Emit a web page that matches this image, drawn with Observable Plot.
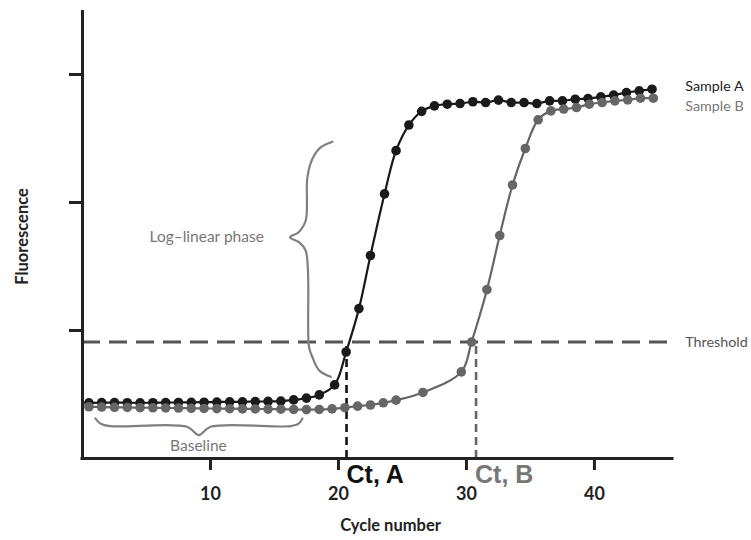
<!DOCTYPE html>
<html><head><meta charset="utf-8">
<script src="https://cdn.jsdelivr.net/npm/d3@7"></script>
<script src="https://cdn.jsdelivr.net/npm/@observablehq/plot@0.6"></script>
<style>body{margin:0;background:#fff}</style>
</head><body><div id="chart"></div>
<script>
// Sample A (black)
const cyclesA = [0.5,1.5,2.5,3.5,4.5,5.5,6.5,7.5,8.5,9.5,10.5,11.5,12.5,13.5,14.5,15.5,16.5,17.5,18.5,19.7,20.6,21.6,22.5,23.6,24.5,25.5,26.5,27.5,28.5,29.5,30.5,31.5,32.5,33.5,34.5,35.5,36.5,37.5,38.5,39.5,40.5,41.5,42.5,43.5,44.5];
const fluorA = [0.435,0.437,0.437,0.436,0.435,0.436,0.437,0.438,0.439,0.440,0.441,0.443,0.443,0.445,0.446,0.448,0.458,0.472,0.497,0.575,0.832,1.171,1.586,2.067,2.405,2.605,2.712,2.755,2.768,2.773,2.787,2.781,2.800,2.781,2.781,2.773,2.794,2.794,2.807,2.812,2.825,2.839,2.859,2.872,2.885];
// Sample B (grey)
const cyclesB = [0.5,1.5,2.5,3.5,4.5,5.5,6.5,7.5,8.5,9.5,10.5,11.5,12.5,13.5,14.5,15.5,16.5,17.5,18.5,19.5,20.5,21.5,22.5,23.5,24.5,26.6,29.6,30.4,31.6,32.6,33.6,34.6,35.6,36.6,37.6,38.6,39.6,40.6,41.6,42.6,43.6,44.6];
const fluorB = [0.404,0.402,0.400,0.399,0.397,0.396,0.395,0.394,0.392,0.391,0.390,0.389,0.388,0.387,0.386,0.385,0.383,0.382,0.383,0.388,0.397,0.409,0.418,0.435,0.456,0.516,0.677,0.910,1.319,1.742,2.137,2.422,2.646,2.716,2.730,2.742,2.768,2.781,2.794,2.802,2.815,2.815];

const xTicks = [10, 20, 30, 40];
const yTicks = [1, 2, 3];
const xDomain = [0, 46.1];
const yDomain = [0, 3.5];
const threshold = 0.91;
const ctA = 20.63;
const ctB = 30.75;
const seriesLabels = ["Sample A", "Sample B"];
const seriesLabelY = [2.91, 2.75];

// curly-brace annotations (data units)
const braceLogX = [19.53,18.61,17.96,17.57,17.44,16.89,16.21,16.91,17.44,17.70,17.96,18.48,19.40];
const braceLogY = [2.475,2.430,2.340,2.196,1.859,1.768,1.729,1.690,1.625,0.871,0.793,0.690,0.638];
const braceBaseX = [1.0,1.39,2.17,8.18,9.08,10.0,16.26,16.91,17.18];
const braceBaseY = [0.313,0.274,0.253,0.248,0.183,0.248,0.253,0.274,0.313];

const rowsA = cyclesA.map((c, i) => ({cycle: c, f: fluorA[i]}));
const rowsB = cyclesB.map((c, i) => ({cycle: c, f: fluorB[i]}));
const braceLog = braceLogX.map((x, i) => ({x, y: braceLogY[i]}));
const braceBase = braceBaseX.map((x, i) => ({x, y: braceBaseY[i]}));

const colA = "#1a1a1a", colB = "#666666", colBrace = "#808080";
const lightFont = "Lato, 'Open Sans', sans-serif";
const lightSize = 15.5;
const sideSize = 14.3;

const chart = Plot.plot({
  width: 751, height: 540,
  marginLeft: 82, marginRight: 79, marginTop: 10, marginBottom: 82,
  x: {domain: xDomain},
  y: {domain: yDomain},
  style: {fontFamily: "Lato, sans-serif", background: "#fff", color: "#222"},
  marks: [
    // threshold
    Plot.ruleY([threshold], {x1: xDomain[0], x2: xDomain[1], stroke: "#555", strokeWidth: 3, strokeDasharray: "18,9"}),
    // Ct lines
    Plot.ruleX([ctA], {y1: 0, y2: threshold, stroke: "#111", strokeWidth: 2.6, strokeDasharray: "8,5"}),
    Plot.ruleX([ctB], {y1: 0, y2: threshold, stroke: "#666", strokeWidth: 2.6, strokeDasharray: "8,5"}),
    // braces
    Plot.line(braceLog, {x: "x", y: "y", curve: "catmull-rom", stroke: colBrace, strokeWidth: 2.2}),
    Plot.line(braceBase, {x: "x", y: "y", curve: "catmull-rom", stroke: colBrace, strokeWidth: 2.2}),
    // series
    Plot.line(rowsA, {x: "cycle", y: "f", curve: "catmull-rom", stroke: colA, strokeWidth: 2.2}),
    Plot.dot(rowsA, {x: "cycle", y: "f", r: 4.8, fill: colA, stroke: "none"}),
    Plot.line(rowsB, {x: "cycle", y: "f", curve: "catmull-rom", stroke: colB, strokeWidth: 2.2}),
    Plot.dot(rowsB, {x: "cycle", y: "f", r: 4.8, fill: colB, stroke: "none"}),
    // axes
    Plot.ruleX([0], {y1: yDomain[0], y2: yDomain[1], stroke: "#222", strokeWidth: 3}),
    Plot.ruleY([0], {x1: xDomain[0], x2: xDomain[1], stroke: "#222", strokeWidth: 3, strokeLinecap: "square"}),
    Plot.axisY(yTicks, {tickSize: 13, tickFormat: () => "", strokeWidth: 3, label: null}),
    Plot.axisX(xTicks, {tickSize: 12, tickPadding: 17, fontSize: 18, fontWeight: "bold", strokeWidth: 3, label: null}),
    // axis titles
    Plot.text(["Cycle number"], {frameAnchor: "bottom", dx: 13, dy: 72, fontSize: 16.5, fontWeight: "bold", fill: "#222"}),
    Plot.text(["Fluorescence"], {frameAnchor: "left", rotate: -90, textAnchor: "middle", dx: -60, dy: 2, fontSize: 16.5, fontWeight: "bold", fill: "#222"}),
    // Ct labels
    Plot.text(["Ct, A"], {x: ctA, y: 0, dy: 16, textAnchor: "start", fontSize: 25, fontWeight: "bold", fontFamily: "'Liberation Sans', Arial, sans-serif", fill: "#111"}),
    Plot.text(["Ct, B"], {x: ctB, y: 0, dy: 16, dx: -1, textAnchor: "start", fontSize: 25, fontWeight: "bold", fontFamily: "'Liberation Sans', Arial, sans-serif", fill: "#777"}),
    // annotation labels
    Plot.text([seriesLabels[0]], {x: 47.1, y: seriesLabelY[0], textAnchor: "start", fontSize: sideSize, fontFamily: lightFont, fill: "#222"}),
    Plot.text([seriesLabels[1]], {x: 47.1, y: seriesLabelY[1], textAnchor: "start", fontSize: sideSize, fontFamily: lightFont, fill: "#777"}),
    Plot.text(["Threshold"], {x: 47.1, y: threshold, textAnchor: "start", fontSize: sideSize, fontFamily: lightFont, fill: "#555"}),
    Plot.text(["Log–linear phase"], {x: 14.17, y: 1.73, textAnchor: "end", fontSize: lightSize, fontFamily: lightFont, fill: "#777"}),
    Plot.text(["Baseline"], {x: 9.06, y: 0.097, textAnchor: "middle", fontSize: lightSize, fontFamily: lightFont, fill: "#777"})
  ]
});
document.getElementById("chart").appendChild(chart);
</script>
</body></html>
